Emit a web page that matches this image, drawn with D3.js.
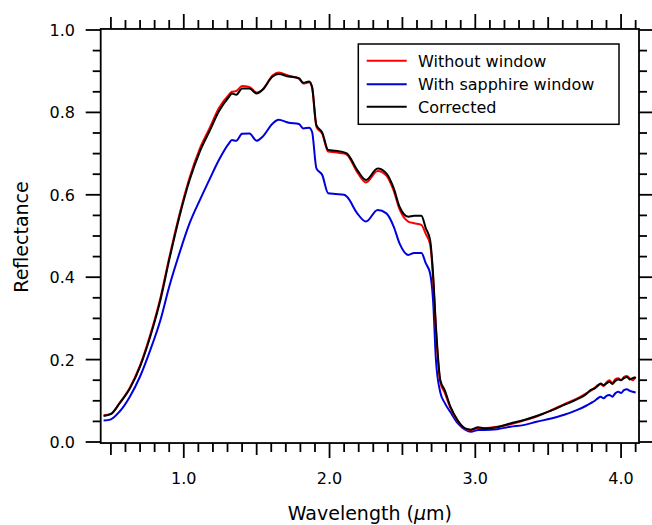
<!DOCTYPE html>
<html><head><meta charset="utf-8">
<script src="https://cdn.jsdelivr.net/npm/d3@7"></script>
<style>html,body{margin:0;padding:0;background:#fff;}</style>
</head><body>
<svg id="chart" width="652" height="525"></svg>
<script>
const wavelength = [0.45,0.50,0.56,0.63,0.70,0.77,0.84,0.90,0.97,1.04,1.11,1.18,1.24,1.31,1.33,1.36,1.40,1.45,1.50,1.54,1.61,1.65,1.72,1.79,1.82,1.86,1.88,1.91,1.95,1.99,2.04,2.10,2.12,2.19,2.25,2.33,2.39,2.44,2.48,2.54,2.58,2.63,2.66,2.69,2.71,2.73,2.76,2.79,2.83,2.88,2.93,2.97,3.02,3.06,3.15,3.24,3.33,3.42,3.52,3.61,3.70,3.76,3.79,3.82,3.84,3.86,3.88,3.90,3.92,3.94,3.96,3.98,4.00,4.02,4.04,4.06,4.08,4.10];
const withoutWindow = [0.065,0.068,0.095,0.132,0.186,0.260,0.350,0.447,0.552,0.642,0.712,0.764,0.810,0.843,0.850,0.852,0.864,0.862,0.848,0.855,0.890,0.897,0.889,0.882,0.870,0.873,0.860,0.765,0.748,0.705,0.703,0.700,0.697,0.655,0.630,0.658,0.647,0.610,0.565,0.535,0.531,0.527,0.505,0.480,0.400,0.270,0.145,0.120,0.082,0.050,0.032,0.029,0.034,0.034,0.037,0.043,0.052,0.062,0.077,0.092,0.106,0.118,0.124,0.132,0.138,0.140,0.136,0.145,0.150,0.143,0.152,0.155,0.150,0.158,0.160,0.154,0.150,0.158];
const withSapphire = [0.052,0.055,0.074,0.110,0.159,0.223,0.296,0.377,0.458,0.531,0.587,0.640,0.684,0.725,0.733,0.731,0.748,0.749,0.731,0.741,0.773,0.782,0.775,0.772,0.761,0.763,0.753,0.664,0.648,0.604,0.602,0.600,0.595,0.555,0.535,0.563,0.555,0.523,0.482,0.454,0.459,0.459,0.434,0.409,0.345,0.199,0.120,0.095,0.072,0.045,0.030,0.025,0.029,0.029,0.031,0.037,0.041,0.049,0.057,0.066,0.078,0.088,0.094,0.100,0.106,0.110,0.106,0.112,0.114,0.110,0.118,0.122,0.119,0.126,0.128,0.124,0.122,0.120];
const corrected = [0.063,0.068,0.094,0.130,0.183,0.256,0.345,0.442,0.547,0.636,0.705,0.757,0.802,0.838,0.846,0.843,0.858,0.858,0.846,0.855,0.887,0.893,0.887,0.883,0.872,0.875,0.862,0.769,0.751,0.709,0.707,0.703,0.700,0.660,0.636,0.664,0.652,0.616,0.571,0.547,0.549,0.549,0.519,0.490,0.409,0.280,0.150,0.126,0.085,0.052,0.033,0.030,0.036,0.033,0.036,0.045,0.053,0.063,0.076,0.090,0.104,0.116,0.126,0.130,0.136,0.142,0.138,0.142,0.146,0.141,0.148,0.152,0.150,0.155,0.158,0.152,0.155,0.157];
const seriesNames = ["Without window","With sapphire window","Corrected"];
const seriesColors = ["#ff0000","#0000dd","#000000"];
const xTickLabels = [1.0,2.0,3.0,4.0];
const yTickLabels = [0.0,0.2,0.4,0.6,0.8,1.0];

const svg = d3.select("#chart");
const x = d3.scaleLinear().domain([0.43,4.123]).range([100.7,639]);
const y = d3.scaleLinear().domain([0,1]).range([442,30]);
const font = "'DejaVu Sans', Verdana, sans-serif";

const pLeft = x.range()[0], pRight = x.range()[1];
const pTop = y(1.0025), pBottom = y(-0.0025);

const xt = d3.range(5,42).map(d=>d/10);
function xLen(v){ const r=Math.round(v*10); if(r%10===0) return 15; if(r%5===0) return 12; return 9; }
const yt = d3.range(0,21).map(d=>d/20);
function yLen(v){ const r=Math.round(v*20); return (r%4===0)?15:8; }

const ax = svg.append("g").attr("stroke","#000").attr("stroke-width",1.8);
ax.selectAll(".xb").data(xt).join("line").attr("x1",d=>x(d)).attr("x2",d=>x(d)).attr("y1",pBottom).attr("y2",d=>pBottom+xLen(d));
ax.selectAll(".xtp").data(xt).join("line").attr("x1",d=>x(d)).attr("x2",d=>x(d)).attr("y1",pTop).attr("y2",d=>pTop-xLen(d));
ax.selectAll(".yl").data(yt).join("line").attr("y1",d=>y(d)).attr("y2",d=>y(d)).attr("x1",pLeft).attr("x2",d=>pLeft-yLen(d));
ax.selectAll(".yr").data(yt).join("line").attr("y1",d=>y(d)).attr("y2",d=>y(d)).attr("x1",pRight).attr("x2",d=>pRight+yLen(d));

const line = vals => d3.line().x((d,i)=>x(wavelength[i])).y(d=>y(d)).curve(d3.curveMonotoneX)(vals);
const allSeries = [withoutWindow, withSapphire, corrected];
[1,0,2].forEach(i=>{
  svg.append("path").attr("d",line(allSeries[i])).attr("fill","none")
    .attr("stroke",seriesColors[i]).attr("stroke-width",2).attr("stroke-linejoin","round");
});

svg.append("rect").attr("x",pLeft).attr("y",pTop).attr("width",pRight-pLeft).attr("height",pBottom-pTop)
  .attr("fill","none").attr("stroke","#000").attr("stroke-width",1.8);

svg.selectAll(".xlab").data(xTickLabels).join("text").attr("x",d=>x(d)).attr("y",484)
  .attr("text-anchor","middle").attr("font-family",font).attr("font-size",16).text(d=>d.toFixed(1));
svg.selectAll(".ylab").data(yTickLabels).join("text").attr("x",75).attr("y",d=>y(d)+6)
  .attr("text-anchor","end").attr("font-family",font).attr("font-size",16).text(d=>d.toFixed(1));

const xt2 = svg.append("text").attr("x",(pLeft+pRight)/2).attr("y",520).attr("text-anchor","middle")
  .attr("font-family",font).attr("font-size",19);
xt2.append("tspan").text("Wavelength (");
xt2.append("tspan").attr("font-style","italic").text("μ");
xt2.append("tspan").text("m)");
svg.append("text").attr("transform","translate(28,237) rotate(-90)").attr("text-anchor","middle")
  .attr("font-family",font).attr("font-size",19).text("Reflectance");

const lg = svg.append("g");
lg.append("rect").attr("x",358.3).attr("y",44).attr("width",260.7).attr("height",80.3)
  .attr("fill","#fff").attr("stroke","#000").attr("stroke-width",1.5);
const rows = [60.7,84.3,106.7];
seriesNames.forEach((n,i)=>{
  lg.append("line").attr("x1",366.7).attr("x2",406.7).attr("y1",rows[i]).attr("y2",rows[i])
    .attr("stroke",seriesColors[i]).attr("stroke-width",2);
  lg.append("text").attr("x",418).attr("y",rows[i]+6).attr("font-family",font).attr("font-size",16).text(n);
});
</script>
</body></html>
